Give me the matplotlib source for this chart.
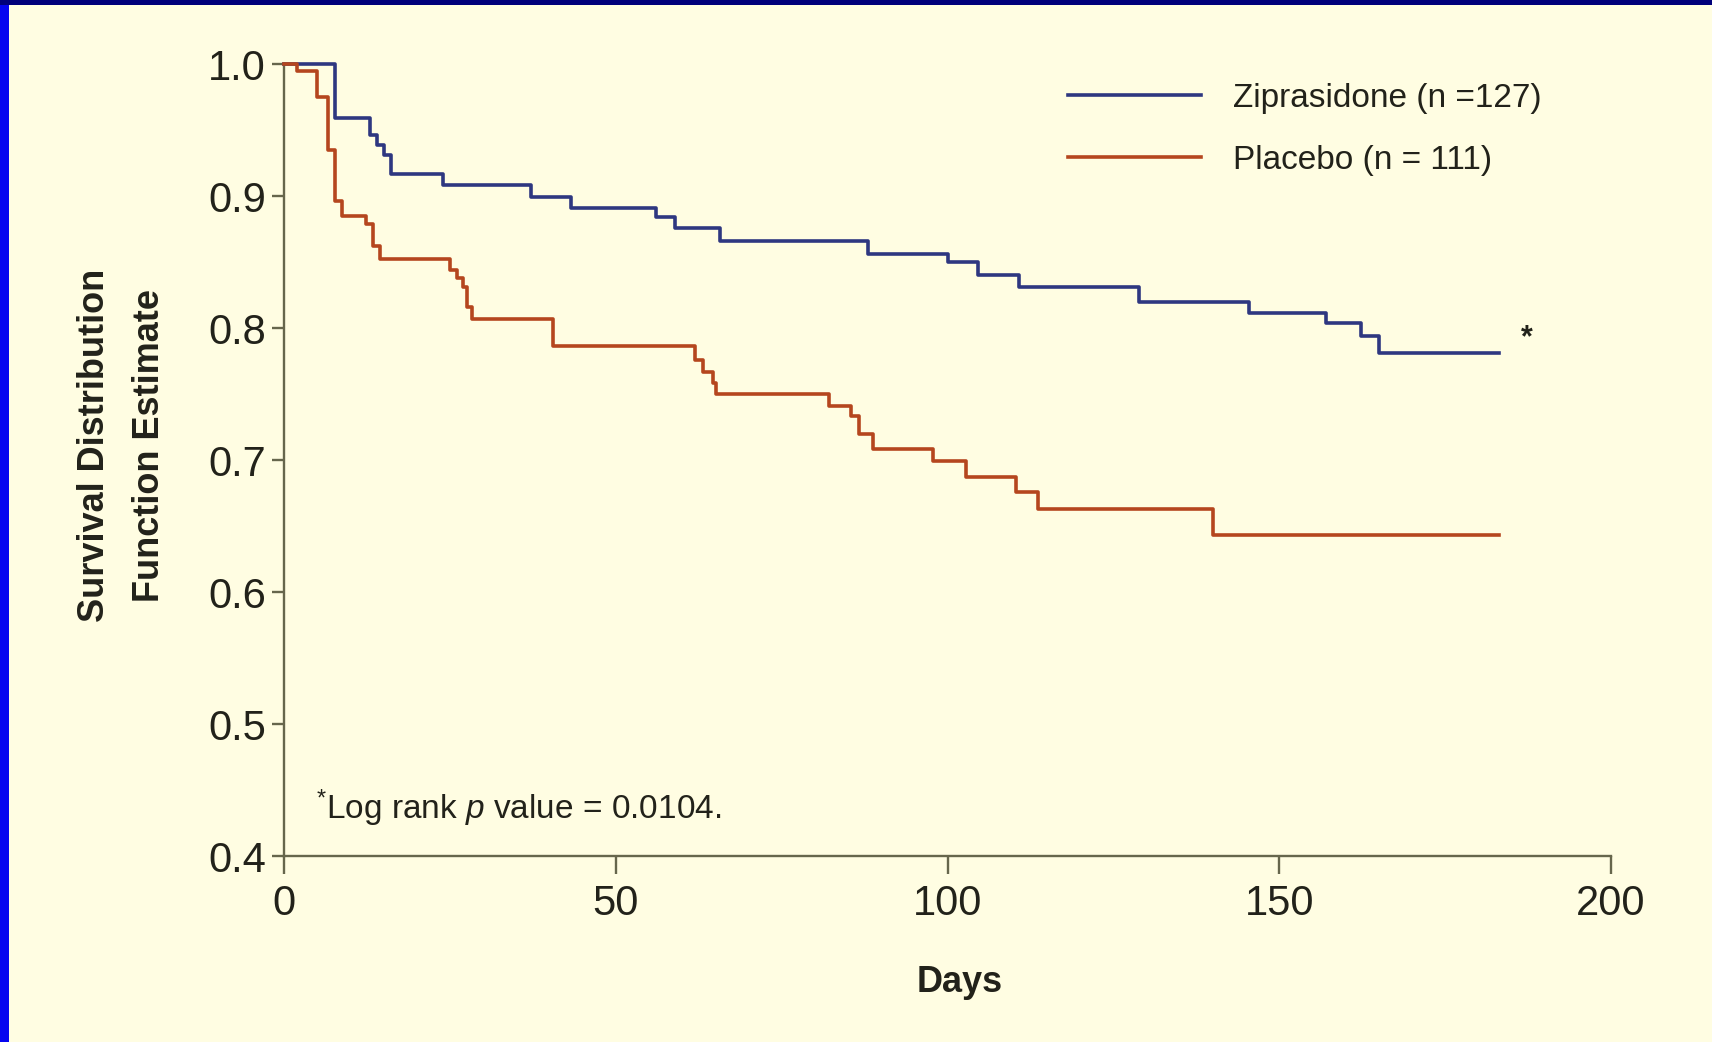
import matplotlib
matplotlib.use("Agg")
import matplotlib.pyplot as plt
from matplotlib import font_manager as fm
from matplotlib.patches import Rectangle

# ---------------- data ----------------
zip_days = [0, 7.7, 13.0, 14.0, 15.0, 16.2, 24.0, 37.3, 43.3, 56.1, 58.9, 65.7,
            88.0, 100.0, 104.6, 110.8, 128.9, 145.5, 157.0, 162.3, 165.0, 183.1]
zip_surv = [1.0, 0.959, 0.946, 0.939, 0.931, 0.917, 0.908, 0.899, 0.891, 0.884, 0.876, 0.866,
            0.856, 0.850, 0.840, 0.831, 0.820, 0.811, 0.804, 0.794, 0.781, 0.781]

pla_days = [0, 2.0, 4.9, 6.6, 7.7, 8.7, 12.4, 13.4, 14.4, 25.0, 26.0, 27.0, 27.6, 28.3,
            40.6, 61.9, 63.1, 64.6, 65.1, 82.2, 85.5, 86.7, 88.7, 97.8, 102.8, 110.3,
            113.6, 140.0, 183.1]
pla_surv = [1.0, 0.995, 0.975, 0.935, 0.896, 0.885, 0.879, 0.862, 0.852, 0.844, 0.838, 0.831, 0.816, 0.807,
            0.786, 0.776, 0.767, 0.758, 0.750, 0.741, 0.733, 0.720, 0.708, 0.699, 0.687, 0.676,
            0.663, 0.643, 0.643]

series_labels = ["Ziprasidone (n =127)", "Placebo (n = 111)"]
x_ticks = [0, 50, 100, 150, 200]
y_ticks = [0.4, 0.5, 0.6, 0.7, 0.8, 0.9, 1.0]
y_tick_labels = ["0.4", "0.5", "0.6", "0.7", "0.8", "0.9", "1.0"]
p_note = r"$^{*}$Log rank $\mathit{p}$ value = 0.0104."

# ---------------- style ----------------
names = {f.name for f in fm.fontManager.ttflist}
BASE = "Liberation Sans" if "Liberation Sans" in names else "DejaVu Sans"
NARROW = "Liberation Sans Narrow" if "Liberation Sans Narrow" in names else BASE
plt.rcParams["font.family"] = [BASE, "DejaVu Sans"]
plt.rcParams["mathtext.fontset"] = "custom"
plt.rcParams["mathtext.rm"] = BASE
plt.rcParams["mathtext.it"] = BASE + ":italic"

BG = "#fffde2"
AXC = "#66664c"
TXT = "#22221a"
BLUE = "#2e3780"
RED = "#b5461e"

W, H = 1712, 1042
fig = plt.figure(figsize=(W / 100, H / 100), dpi=100, facecolor=BG)

# blue frame strips (left and top)
fig.patches.append(Rectangle((0, 0), 9 / W, 1, transform=fig.transFigure,
                             facecolor="#0505f0", edgecolor="none", zorder=10))
fig.patches.append(Rectangle((0, 1 - 5 / H), 1, 5 / H, transform=fig.transFigure,
                             facecolor="#00007a", edgecolor="none", zorder=11))

left, right = 284 / W, 1611 / W
bottom, top = 1 - 856 / H, 1 - 64 / H
ax = fig.add_axes([left, bottom, right - left, top - bottom])
ax.set_facecolor("none")

ax.step(zip_days, zip_surv, where="post", color=BLUE, lw=2.6,
        label=series_labels[0], clip_on=False, zorder=3)
ax.step(pla_days, pla_surv, where="post", color=RED, lw=2.6,
        label=series_labels[1], clip_on=False, zorder=3)

ax.set_xlim(0, 200)
ax.set_ylim(0.4, 1.0)
ax.set_xticks(x_ticks)
ax.set_yticks(y_ticks)
ax.set_yticklabels(y_tick_labels)

for s in ["top", "right"]:
    ax.spines[s].set_visible(False)
for s in ["left", "bottom"]:
    ax.spines[s].set_color(AXC)
    ax.spines[s].set_linewidth(1.7)

ax.tick_params(axis="x", direction="out", length=13, width=1.7, color=AXC,
               labelsize=30, labelcolor=TXT, pad=7)
ax.tick_params(axis="y", direction="out", length=9, width=1.7, color=AXC,
               labelsize=30, labelcolor=TXT, pad=4)

# axis labels
lab_fs = 31 if NARROW != BASE else 26
ax.set_xlabel("Days", fontsize=lab_fs, fontweight="bold", family=[NARROW, "DejaVu Sans"],
              color=TXT)
ax.xaxis.set_label_coords((960 - 284) / (1611 - 284), (856 - 982) / (856 - 64))
ax.xaxis.label.set_va("center")

ax.set_ylabel("Survival Distribution\nFunction Estimate", fontsize=lab_fs, fontweight="bold",
              family=[NARROW, "DejaVu Sans"], color=TXT,
              linespacing=62 / (lab_fs * 100 / 72))
ax.yaxis.set_label_coords((122 - 284) / (1611 - 284), (856 - 445) / (856 - 64))
ax.yaxis.label.set_va("center")

# legend
leg = ax.legend(loc="center left", bbox_to_anchor=(1068 / W, 1 - 129.5 / H),
                bbox_transform=fig.transFigure, frameon=False, fontsize=24,
                handlelength=4.0, handletextpad=0.95, labelspacing=0.93,
                borderpad=0, borderaxespad=0)
for t in leg.get_texts():
    t.set_color(TXT)

# annotations
ax.text(187.3, 0.792, "*", fontsize=22, fontweight="bold", color=TXT, ha="center", va="center")
ax.text(4.8, 0.428, p_note, fontsize=24, color=TXT, ha="left", va="baseline")

fig.savefig("out.png", dpi=100, facecolor=BG)
